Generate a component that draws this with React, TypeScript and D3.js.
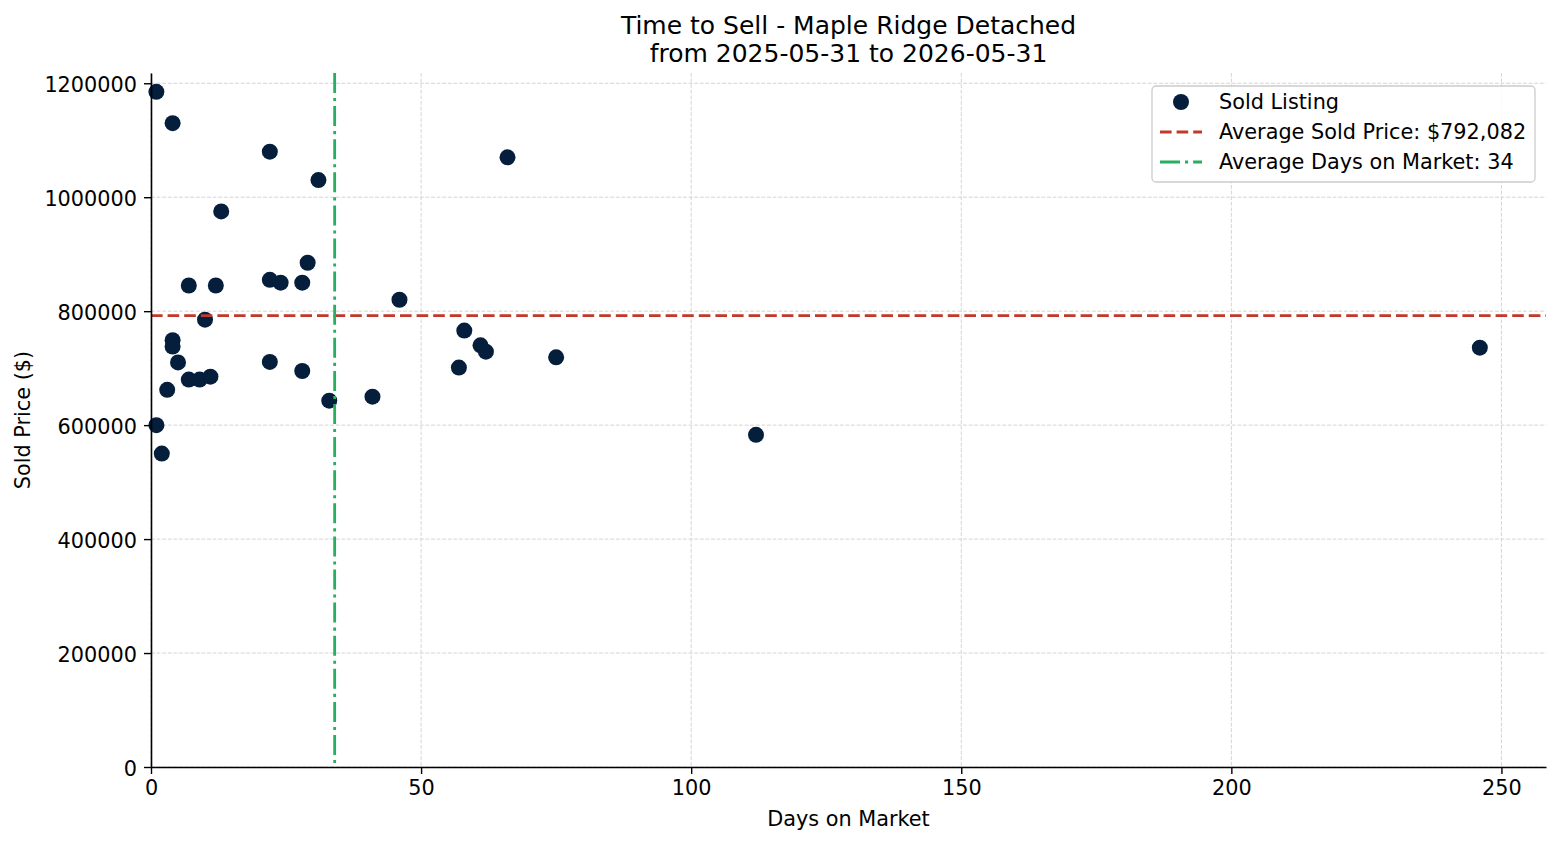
import { useEffect, useRef } from 'react';
import * as d3 from 'd3';

// days on market for each sold listing
const daysOnMarket = [1, 4, 22, 31, 66, 13, 29, 22, 24, 28, 7, 12, 46, 10, 4, 4, 5, 22, 58, 61, 62, 75, 57, 28, 7, 9, 11, 3, 41, 33, 1, 2, 112, 246];
// sold price for each listing (same order)
const soldPrices = [1185000, 1130000, 1080000, 1030000, 1070000, 975000, 885000, 855000, 850000, 850000, 845000, 845000, 820000, 785000, 749000, 738000, 710000, 711000, 766000, 740000, 729000, 719000, 701000, 695000, 680000, 680000, 685000, 662000, 650000, 643000, 600000, 550000, 583000, 736000];
const xTicks = [0, 50, 100, 150, 200, 250];
const yTicks = [0, 200000, 400000, 600000, 800000, 1000000, 1200000];
const avgPrice = 792082;
const avgDays = 34;

const W = 1560;
const H = 845;

const App = () => {
  const svgRef = useRef<SVGSVGElement>(null);

  useEffect(() => {
    if (!svgRef.current) return;
    const svg = d3.select(svgRef.current);
    svg.selectAll('*').remove();

    const margin = { top: 73, right: 14, bottom: 78, left: 151 };
    const innerWidth = W - margin.left - margin.right;
    const innerHeight = H - margin.top - margin.bottom;
    const font = 'DejaVu Sans, sans-serif';
    const fs = 20.8;
    const dashed = '11.6,5';
    const dashDot = '20,5,3.1,5';
    const dotColor = '#041e3c';

    const x = d3.scaleLinear().domain([0, 258.25]).range([0, innerWidth]);
    const y = d3.scaleLinear().domain([0, 1218000]).range([innerHeight, 0]);

    const g = svg.append('g').attr('transform', `translate(${margin.left},${margin.top})`);

    // grid
    g.selectAll('.vgrid').data(xTicks).enter().append('line')
      .attr('x1', d => x(d)).attr('x2', d => x(d))
      .attr('y1', 0).attr('y2', innerHeight)
      .attr('stroke', '#d4d4d4').attr('stroke-width', 1).attr('stroke-dasharray', '3.9,1.7');
    g.selectAll('.hgrid').data(yTicks).enter().append('line')
      .attr('x1', 0).attr('x2', innerWidth)
      .attr('y1', d => y(d)).attr('y2', d => y(d))
      .attr('stroke', '#d4d4d4').attr('stroke-width', 1).attr('stroke-dasharray', '3.9,1.7');

    // points
    g.selectAll('.dot').data(daysOnMarket.map((d, i) => [d, soldPrices[i]])).enter().append('circle')
      .attr('cx', d => x(d[0])).attr('cy', d => y(d[1]))
      .attr('r', 8).attr('fill', dotColor);

    // average lines (drawn over the points)
    g.append('line')
      .attr('x1', 0).attr('x2', innerWidth)
      .attr('y1', y(avgPrice)).attr('y2', y(avgPrice))
      .attr('stroke', '#c0392b').attr('stroke-width', 2.8).attr('stroke-dasharray', dashed);
    g.append('line')
      .attr('x1', x(avgDays)).attr('x2', x(avgDays))
      .attr('y1', 0).attr('y2', innerHeight)
      .attr('stroke', '#27ae60').attr('stroke-width', 2.8).attr('stroke-dasharray', dashDot);

    // axes
    const xAxis = g.append('g')
      .attr('transform', `translate(0,${innerHeight})`)
      .call(d3.axisBottom(x).tickValues(xTicks).tickSize(7).tickPadding(6).tickSizeOuter(0));
    const yAxis = g.append('g')
      .call(d3.axisLeft(y).tickValues(yTicks).tickFormat(d3.format('d')).tickSize(7).tickPadding(7).tickSizeOuter(0));
    [xAxis, yAxis].forEach(a => {
      a.attr('font-size', fs).attr('font-family', font);
      a.selectAll('text').attr('font-family', font).attr('font-size', fs).attr('fill', '#000');
      a.selectAll('line').attr('stroke', '#000').attr('stroke-width', 1.4);
      a.select('.domain').attr('stroke', '#000').attr('stroke-width', 1.6);
    });
    yAxis.selectAll('text').attr('dy', '0.4em');

    // title
    const cx = margin.left + innerWidth / 2;
    const title = svg.append('text')
      .attr('text-anchor', 'middle')
      .attr('font-family', font).attr('font-size', 25).attr('fill', '#000');
    title.append('tspan').attr('x', cx).attr('y', 34).text('Time to Sell - Maple Ridge Detached');
    title.append('tspan').attr('x', cx).attr('y', 62).text('from 2025-05-31 to 2026-05-31');

    // axis labels
    svg.append('text')
      .attr('x', cx).attr('y', 826).attr('text-anchor', 'middle')
      .attr('font-family', font).attr('font-size', fs).text('Days on Market');
    svg.append('text')
      .attr('transform', `translate(30,${margin.top + innerHeight / 2}) rotate(-90)`)
      .attr('text-anchor', 'middle')
      .attr('font-family', font).attr('font-size', fs).text('Sold Price ($)');

    // legend
    const lg = svg.append('g').attr('transform', 'translate(1152,86)');
    lg.append('rect').attr('width', 383).attr('height', 96).attr('rx', 4)
      .attr('fill', '#fff').attr('fill-opacity', 0.85).attr('stroke', '#cccccc').attr('stroke-width', 1.3);
    const items = [
      { label: 'Sold Listing', type: 'dot' },
      { label: `Average Sold Price: $${d3.format(',')(avgPrice)}`, type: 'dash' },
      { label: `Average Days on Market: ${avgDays}`, type: 'dashdot' },
    ];
    items.forEach((it, i) => {
      const cy = 16 + i * 30;
      if (it.type === 'dot') {
        lg.append('circle').attr('cx', 29).attr('cy', cy).attr('r', 8).attr('fill', dotColor);
      } else {
        lg.append('line').attr('x1', 8).attr('x2', 50).attr('y1', cy).attr('y2', cy)
          .attr('stroke', it.type === 'dash' ? '#c0392b' : '#27ae60').attr('stroke-width', 2.8)
          .attr('stroke-dasharray', it.type === 'dash' ? dashed : dashDot);
      }
      lg.append('text').attr('x', 67).attr('y', cy + 7)
        .attr('font-family', font).attr('font-size', fs).attr('fill', '#000').text(it.label);
    });
  }, []);

  return <svg ref={svgRef} width={W} height={H} style={{ position: 'absolute', left: 0, top: 0, background: '#fff' }} />;
};

export default App;
